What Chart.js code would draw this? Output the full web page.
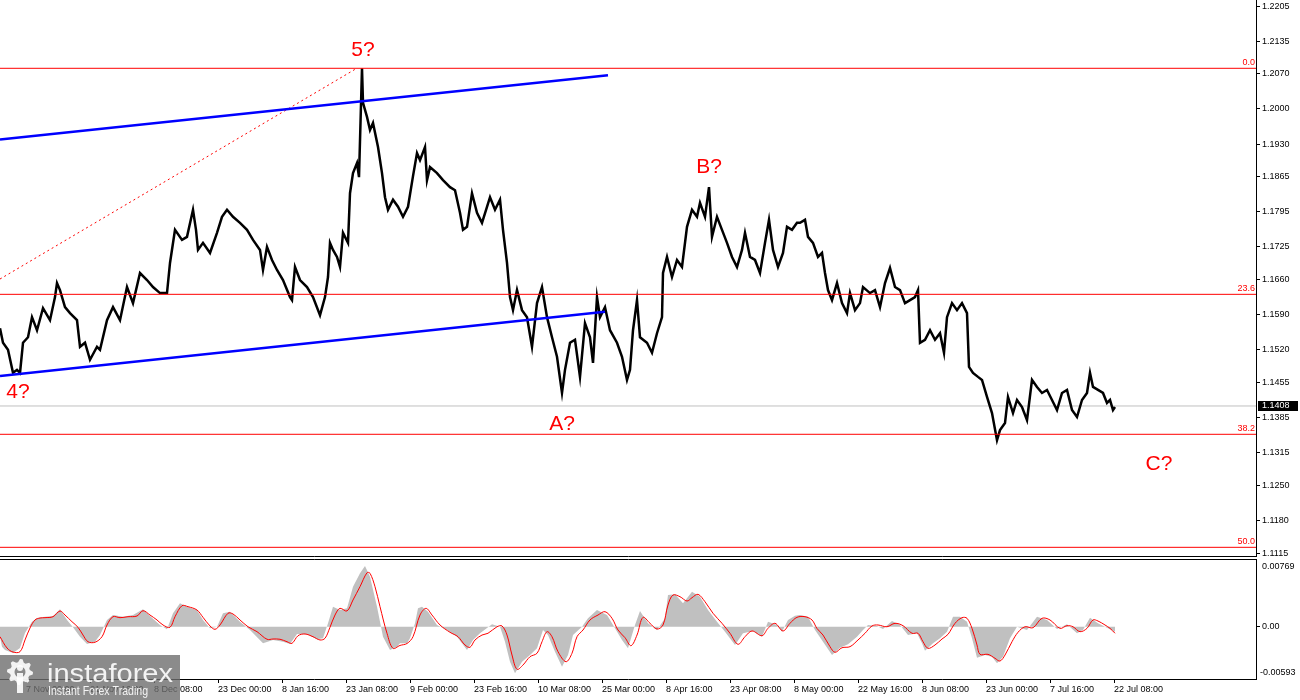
<!DOCTYPE html>
<html>
<head>
<meta charset="utf-8">
<script src="https://cdn.jsdelivr.net/npm/chart.js@4.4.1/dist/chart.umd.min.js"></script>
<style>
  html, body { margin: 0; padding: 0; background: #fff; }
  #wrap { position: relative; width: 1300px; height: 700px; overflow: hidden; }
  #priceChart { position: absolute; left: 0; top: 0; width: 1300px; height: 557px; }
  #macdChart { position: absolute; left: 0; top: 557px; width: 1300px; height: 143px; }
</style>
</head>
<body>
<div id="wrap">
  <canvas id="priceChart" width="1300" height="557"></canvas>
  <canvas id="macdChart" width="1300" height="143"></canvas>
</div>
<script>
Chart.defaults.font.family = '"Liberation Sans", Arial, sans-serif';
Chart.defaults.font.size = 9;
Chart.defaults.color = '#000';

// x is the H4 bar number, one bar per pixel
const timeTickBars = [26, 90, 154, 218, 282, 346, 410, 474, 538, 602, 666, 730, 794, 858, 922, 986, 1050, 1114];
const timeTickLabels = ['7 Nov 00:00', '21 Nov 16:00', '8 Dec 08:00', '23 Dec 00:00', '8 Jan 16:00', '23 Jan 08:00',
  '9 Feb 00:00', '23 Feb 16:00', '10 Mar 08:00', '25 Mar 00:00', '8 Apr 16:00', '23 Apr 08:00',
  '8 May 00:00', '22 May 16:00', '8 Jun 08:00', '23 Jun 00:00', '7 Jul 16:00', '22 Jul 08:00'];

const priceTicks = [1.2205, 1.2135, 1.2070, 1.2000, 1.1930, 1.1865, 1.1795, 1.1725, 1.1660,
  1.1590, 1.1520, 1.1455, 1.1385, 1.1315, 1.1250, 1.1180, 1.1115];

const priceBars = [
  0, 3, 8, 13, 17, 20, 23, 28, 32, 37,
  43, 50, 55, 57, 60, 65, 70, 77, 80, 85,
  90, 97, 100, 107, 113, 120, 127, 133, 140, 147,
  153, 160, 167, 170, 175, 182, 187, 193, 196, 198,
  203, 210, 217, 222, 227, 233, 240, 247, 253, 260,
  263, 267, 272, 277, 283, 290, 292, 295, 300, 307,
  313, 320, 325, 328, 330, 333, 337, 340, 343, 348,
  350, 353, 357, 359, 362, 363, 367, 370, 373, 378,
  382, 385, 388, 393, 398, 403, 408, 413, 417, 420,
  425, 427, 430, 437, 443, 450, 455, 460, 463, 467,
  472, 477, 482, 487, 490, 495, 500, 503, 507, 510,
  513, 517, 522, 527, 532, 537, 542, 547, 552, 557,
  562, 565, 570, 575, 580, 585, 590, 593, 597, 600,
  605, 610, 617, 622, 627, 630, 633, 637, 640, 647,
  652, 657, 662, 663, 667, 672, 677, 682, 687, 692,
  697, 700, 705, 709, 712, 717, 722, 727, 732, 737,
  742, 745, 750, 755, 760, 765, 769, 773, 778, 783,
  787, 792, 797, 800, 805, 808, 813, 818, 822, 825,
  828, 832, 837, 842, 847, 850, 855, 860, 863, 870,
  875, 880, 885, 890, 895, 900, 905, 910, 915, 918,
  920, 925, 930, 935, 940, 944, 947, 952, 957, 962,
  967, 969, 973, 978, 982, 987, 992, 997, 1000, 1005,
  1008, 1013, 1017, 1022, 1027, 1032, 1037, 1042, 1047, 1052,
  1057, 1062, 1067, 1072, 1077, 1082, 1087, 1090, 1093, 1098,
  1103, 1107, 1110, 1113, 1115
];
const priceValues = [
  1.1563, 1.1534, 1.1520, 1.1474, 1.1480, 1.1474, 1.1534, 1.1545, 1.1585, 1.1559,
  1.1603, 1.1579, 1.1625, 1.1653, 1.1639, 1.1605, 1.1593, 1.1579, 1.1526, 1.1534,
  1.1500, 1.1526, 1.1520, 1.1579, 1.1605, 1.1579, 1.1645, 1.1613, 1.1673, 1.1659,
  1.1645, 1.1633, 1.1633, 1.1693, 1.1759, 1.1739, 1.1745, 1.1799, 1.1759, 1.1719,
  1.1733, 1.1713, 1.1753, 1.1785, 1.1799, 1.1785, 1.1773, 1.1759, 1.1739, 1.1719,
  1.1679, 1.1725, 1.1699, 1.1679, 1.1659, 1.1625, 1.1619, 1.1685, 1.1659, 1.1645,
  1.1625, 1.1589, 1.1625, 1.1665, 1.1733, 1.1719, 1.1705, 1.1685, 1.1753, 1.1733,
  1.1832, 1.1872, 1.1892, 1.1864, 1.2081, 1.2012, 1.1984, 1.1958, 1.1972, 1.1924,
  1.1872, 1.1824, 1.1799, 1.1819, 1.1805, 1.1785, 1.1805, 1.1866, 1.1912, 1.1898,
  1.1924, 1.1858, 1.1884, 1.1872, 1.1858, 1.1844, 1.1838, 1.1793, 1.1759, 1.1765,
  1.1832, 1.1793, 1.1773, 1.1805, 1.1824, 1.1799, 1.1819, 1.1759, 1.1693, 1.1625,
  1.1599, 1.1639, 1.1599, 1.1585, 1.1526, 1.1613, 1.1645, 1.1585, 1.1545, 1.1506,
  1.1434, 1.1480, 1.1534, 1.1540, 1.1466, 1.1573, 1.1545, 1.1494, 1.1625, 1.1585,
  1.1605, 1.1559, 1.1534, 1.1506, 1.1460, 1.1480, 1.1559, 1.1619, 1.1545, 1.1534,
  1.1514, 1.1553, 1.1585, 1.1673, 1.1705, 1.1665, 1.1699, 1.1685, 1.1765, 1.1799,
  1.1785, 1.1813, 1.1785, 1.1844, 1.1745, 1.1785, 1.1759, 1.1733, 1.1705, 1.1685,
  1.1719, 1.1753, 1.1705, 1.1699, 1.1673, 1.1733, 1.1779, 1.1719, 1.1685, 1.1713,
  1.1765, 1.1759, 1.1773, 1.1773, 1.1779, 1.1745, 1.1733, 1.1705, 1.1713, 1.1673,
  1.1639, 1.1619, 1.1653, 1.1613, 1.1593, 1.1633, 1.1599, 1.1613, 1.1645, 1.1633,
  1.1639, 1.1605, 1.1653, 1.1683, 1.1645, 1.1639, 1.1613, 1.1619, 1.1625, 1.1639,
  1.1534, 1.1540, 1.1559, 1.1540, 1.1553, 1.1514, 1.1585, 1.1613, 1.1599, 1.1613,
  1.1593, 1.1486, 1.1474, 1.1466, 1.1460, 1.1426, 1.1394, 1.1340, 1.1360, 1.1374,
  1.1426, 1.1394, 1.1420, 1.1406, 1.1380, 1.1460, 1.1446, 1.1434, 1.1440, 1.1420,
  1.1400, 1.1434, 1.1440, 1.1400, 1.1386, 1.1420, 1.1434, 1.1474, 1.1446, 1.1440,
  1.1434, 1.1414, 1.1420, 1.1400, 1.1406
];
const lastPrice = 1.1408;

const fibLevels = [1.20809, 1.16305, 1.13516, 1.11264];
const fibLabels = ['0.0', '23.6', '38.2', '50.0'];

const channelTopBars = [0, 608];
const channelTopValues = [1.1939, 1.2067];
const channelLowBars = [0, 605];
const channelLowValues = [1.1468, 1.1596];
const fanBars = [0, 356];
const fanValues = [1.1661, 1.2080];

const waveTexts = ['5?', '4?', 'A?', 'B?', 'C?'];
const waveBars = [363, 18, 562, 709, 1159];
const wavePrices = [1.2117, 1.1436, 1.1372, 1.1884, 1.1292];

// MACD (12,26,9): main as histogram, signal as line
const histBars = [
  0, 2, 5, 13, 20, 25, 32, 37, 43, 53,
  60, 67, 73, 80, 87, 95, 100, 107, 113, 123,
  133, 143, 150, 160, 167, 173, 180, 187, 197, 203,
  210, 217, 223, 230, 240, 250, 263, 273, 283, 290,
  297, 307, 317, 323, 328, 333, 340, 347, 353, 360,
  365, 370, 377, 383, 390, 397, 400, 407, 410, 415,
  418, 422, 428, 437, 447, 457, 467, 473, 480, 492,
  500, 505, 510, 515, 522, 530, 537, 543, 548, 555,
  562, 568, 573, 582, 588, 597, 607, 615, 622, 628,
  635, 640, 648, 657, 665, 668, 675, 683, 692, 700,
  708, 717, 725, 735, 743, 753, 762, 768, 777, 782,
  788, 795, 800, 808, 815, 823, 832, 840, 848, 857,
  863, 868, 877, 883, 892, 900, 908, 917, 922, 925,
  933, 940, 947, 953, 960, 967, 972, 977, 985, 992,
  997, 1003, 1010, 1017, 1027, 1037, 1047, 1057, 1067, 1077,
  1083, 1090, 1098, 1105, 1115
];
const histValues = [
  -0.00113, -0.00226, -0.00264, -0.00298, -0.00241, -0.00071, 0.00057, 0.00099, 0.00111, 0.00122,
  0.00198, 0.00077, -0.00006, -0.00113, -0.00196, -0.00170, -0.00094, 0.00077, 0.00133, 0.00114,
  0.00133, 0.00198, 0.00122, 0.00020, -0.00029, 0.00153, 0.00266, 0.00228, 0.00190, 0.00077,
  -0.00018, 0.00000, 0.00153, 0.00171, 0.00057, -0.00037, -0.00188, -0.00150, -0.00170, -0.00196,
  -0.00082, -0.00086, -0.00142, -0.00131, 0.00039, 0.00228, 0.00190, 0.00209, 0.00455, 0.00607,
  0.00690, 0.00568, 0.00228, -0.00113, -0.00264, -0.00226, -0.00188, -0.00188, -0.00131, 0.00039,
  0.00209, 0.00228, 0.00171, 0.00020, -0.00037, -0.00113, -0.00264, -0.00150, -0.00074, 0.00028,
  0.00000, -0.00170, -0.00397, -0.00528, -0.00397, -0.00321, -0.00245, -0.00037, -0.00094, -0.00283,
  -0.00453, -0.00321, -0.00094, 0.00000, 0.00096, 0.00190, 0.00133, -0.00018, -0.00150, -0.00245,
  0.00020, 0.00179, 0.00039, -0.00037, 0.00096, 0.00360, 0.00368, 0.00266, 0.00398, 0.00341,
  0.00190, 0.00057, -0.00056, -0.00207, -0.00074, -0.00048, -0.00113, 0.00057, 0.00020, -0.00056,
  0.00077, 0.00125, 0.00133, 0.00114, -0.00037, -0.00170, -0.00321, -0.00238, -0.00199, -0.00113,
  -0.00037, 0.00020, 0.00009, -0.00026, 0.00065, 0.00020, -0.00094, -0.00074, -0.00188, -0.00272,
  -0.00188, -0.00131, -0.00056, 0.00114, 0.00114, 0.00057, -0.00131, -0.00351, -0.00321, -0.00340,
  -0.00415, -0.00340, -0.00131, 0.00000, -0.00037, 0.00114, 0.00077, -0.00026, 0.00028, -0.00074,
  -0.00037, 0.00103, 0.00039, 0.00000, -0.00056
];
const signalBars = [
  0, 7, 13, 20, 25, 30, 35, 40, 45, 53,
  60, 65, 72, 78, 83, 88, 95, 102, 107, 113,
  120, 128, 137, 143, 150, 157, 163, 170, 175, 182,
  188, 197, 203, 210, 215, 220, 228, 233, 240, 248,
  257, 267, 273, 280, 287, 292, 298, 305, 313, 320,
  325, 330, 335, 340, 347, 353, 360, 367, 370, 375,
  380, 387, 393, 400, 407, 413, 420, 426, 432, 440,
  450, 458, 465, 470, 475, 482, 488, 497, 502, 507,
  512, 517, 523, 530, 537, 542, 547, 552, 558, 566,
  572, 577, 583, 590, 598, 605, 612, 618, 625, 631,
  637, 643, 650, 657, 663, 668, 673, 680, 687, 692,
  698, 705, 713, 722, 730, 738, 745, 752, 762, 768,
  775, 783, 790, 797, 805, 812, 817, 823, 830, 835,
  842, 850, 858, 865, 872, 878, 887, 895, 903, 912,
  918, 923, 928, 935, 942, 948, 955, 962, 967, 972,
  977, 980, 988, 995, 1000, 1005, 1012, 1018, 1025, 1033,
  1042, 1050, 1060, 1067, 1073, 1080, 1087, 1093, 1098, 1105,
  1110, 1115
];
const signalValues = [
  -0.00113, -0.00241, -0.00287, -0.00283, -0.00150, -0.00014, 0.00077, 0.00099, 0.00103, 0.00114,
  0.00179, 0.00133, 0.00057, -0.00006, -0.00094, -0.00170, -0.00176, -0.00113, 0.00020, 0.00114,
  0.00103, 0.00114, 0.00122, 0.00182, 0.00133, 0.00077, 0.00020, -0.00006, 0.00114, 0.00239,
  0.00228, 0.00190, 0.00107, 0.00009, -0.00029, 0.00020, 0.00153, 0.00145, 0.00077, 0.00000,
  -0.00056, -0.00142, -0.00139, -0.00142, -0.00170, -0.00188, -0.00102, -0.00082, -0.00113, -0.00150,
  -0.00131, -0.00006, 0.00133, 0.00209, 0.00179, 0.00304, 0.00455, 0.00613, 0.00607, 0.00455,
  0.00228, -0.00074, -0.00245, -0.00212, -0.00190, -0.00113, 0.00133, 0.00209, 0.00133, 0.00020,
  -0.00063, -0.00113, -0.00207, -0.00233, -0.00150, -0.00094, -0.00074, 0.00000, 0.00009, -0.00094,
  -0.00321, -0.00483, -0.00434, -0.00340, -0.00301, -0.00170, -0.00056, -0.00113, -0.00283, -0.00397,
  -0.00301, -0.00113, -0.00037, 0.00077, 0.00133, 0.00171, 0.00096, -0.00037, -0.00124, -0.00215,
  -0.00094, 0.00107, 0.00039, -0.00026, 0.00020, 0.00247, 0.00360, 0.00341, 0.00292, 0.00330,
  0.00368, 0.00284, 0.00153, 0.00039, -0.00074, -0.00199, -0.00113, -0.00048, -0.00102, -0.00018,
  0.00039, -0.00048, 0.00039, 0.00107, 0.00114, 0.00077, -0.00020, -0.00094, -0.00226, -0.00290,
  -0.00238, -0.00226, -0.00150, -0.00074, 0.00009, 0.00020, 0.00000, 0.00039, 0.00012, -0.00074,
  -0.00074, -0.00170, -0.00245, -0.00207, -0.00139, -0.00086, 0.00039, 0.00103, 0.00096, -0.00018,
  -0.00207, -0.00313, -0.00313, -0.00358, -0.00389, -0.00321, -0.00170, -0.00063, 0.00000, -0.00011,
  0.00096, 0.00077, -0.00018, 0.00012, 0.00000, -0.00056, -0.00018, 0.00077, 0.00065, 0.00020,
  -0.00018, -0.00074
];
const macdTicks = [0];
const macdMax = 0.00769;
const macdMin = -0.00593;

function pts(bars, vals) {
  return bars.map((b, i) => ({ x: b, y: vals[i] }));
}

// fixed right axis width, no edge padding, so both panels line up
function fixAxis(width) {
  return function (scale) {
    scale.width = width;
    scale.paddingTop = 0;
    scale.paddingBottom = 0;
  };
}

const priceDecor = {
  id: 'priceDecor',
  afterDatasetsDraw(chart) {
    const { ctx, chartArea, scales: { x, y } } = chart;
    ctx.save();
    ctx.fillStyle = '#ff0000';
    ctx.font = '9px "Liberation Sans", Arial, sans-serif';
    ctx.textAlign = 'right';
    ctx.textBaseline = 'bottom';
    fibLevels.forEach((lvl, i) => {
      ctx.fillText(fibLabels[i], chartArea.right - 1, y.getPixelForValue(lvl) - 1);
    });
    ctx.font = '21px "Liberation Sans", Arial, sans-serif';
    ctx.textAlign = 'center';
    ctx.textBaseline = 'middle';
    waveTexts.forEach((t, i) => {
      ctx.fillText(t, x.getPixelForValue(waveBars[i]), y.getPixelForValue(wavePrices[i]));
    });
    // panel frame bottom
    ctx.strokeStyle = '#000';
    ctx.lineWidth = 1;
    ctx.beginPath();
    ctx.moveTo(0, chartArea.bottom - 0.5);
    ctx.lineTo(chartArea.right + 1, chartArea.bottom - 0.5);
    ctx.stroke();
    ctx.restore();
  },
  afterDraw(chart) {
    const { ctx, chartArea, scales: { y } } = chart;
    const py = Math.round(y.getPixelForValue(lastPrice));
    ctx.save();
    ctx.fillStyle = '#000';
    ctx.fillRect(chartArea.right + 2, py - 5, 40, 10);
    ctx.fillStyle = '#fff';
    ctx.font = '9px "Liberation Sans", Arial, sans-serif';
    ctx.textAlign = 'left';
    ctx.textBaseline = 'middle';
    ctx.fillText(lastPrice.toFixed(4), chartArea.right + 6, py);
    ctx.restore();
  }
};

new Chart(document.getElementById('priceChart'), {
  type: 'line',
  data: {
    datasets: [
      ...fibLevels.map(lvl => ({
        data: pts([0, 1256], [lvl, lvl]), borderColor: '#ff0000', borderWidth: 1, order: 1
      })),
      { data: pts([0, 1256], [lastPrice, lastPrice]), borderColor: '#c0c0c0', borderWidth: 1, order: 6 },
      { data: pts(channelTopBars, channelTopValues), borderColor: '#0000ff', borderWidth: 2.5, order: 1 },
      { data: pts(channelLowBars, channelLowValues), borderColor: '#0000ff', borderWidth: 2.5, order: 1 },
      { data: pts(fanBars, fanValues), borderColor: '#ff0000', borderWidth: 1, borderDash: [2, 3], order: 1 },
      { data: pts(priceBars, priceValues), borderColor: '#000', borderWidth: 2.5, borderJoinStyle: 'miter', order: 5 }
    ]
  },
  options: {
    responsive: false,
    animation: false,
    devicePixelRatio: 1,
    layout: { padding: 0 },
    elements: { point: { radius: 0 }, line: { tension: 0 } },
    plugins: { legend: { display: false }, tooltip: { enabled: false } },
    scales: {
      x: { type: 'linear', min: 0, max: 1256, display: false },
      y: {
        position: 'right',
        min: 1.11071,
        max: 1.2217,
        afterBuildTicks: scale => { scale.ticks = priceTicks.map(v => ({ value: v })); },
        afterFit: fixAxis(44),
        grid: { drawOnChartArea: false, drawTicks: true, tickLength: 4, color: '#000' },
        border: { display: true, color: '#000', width: 1 },
        ticks: { autoSkip: false, padding: 2, color: '#000', callback: v => v.toFixed(4) }
      }
    }
  },
  plugins: [priceDecor]
});

function drawGear(ctx, cx, cy, rOut, rIn, teeth) {
  ctx.beginPath();
  const n = teeth * 4;
  for (let i = 0; i <= n; i++) {
    const a = (i / n) * Math.PI * 2;
    const r = (i % 4 < 2) ? rOut : rIn;
    const px = cx + Math.cos(a) * r, py = cy + Math.sin(a) * r;
    if (i === 0) ctx.moveTo(px, py); else ctx.lineTo(px, py);
  }
  ctx.closePath();
  ctx.moveTo(cx + rIn * 0.55, cy);
  ctx.arc(cx, cy, rIn * 0.55, 0, Math.PI * 2, true);
  ctx.fill('evenodd');
}

const macdDecor = {
  id: 'macdDecor',
  afterDraw(chart) {
    const { ctx, chartArea, scales: { y } } = chart;
    ctx.save();
    // top frame line of the indicator window
    ctx.strokeStyle = '#000';
    ctx.lineWidth = 1;
    ctx.beginPath();
    ctx.moveTo(0, chartArea.top + 0.5);
    ctx.lineTo(chartArea.right + 1, chartArea.top + 0.5);
    ctx.stroke();
    // window range labels
    ctx.fillStyle = '#000';
    ctx.font = '9px "Liberation Sans", Arial, sans-serif';
    ctx.textAlign = 'left';
    ctx.textBaseline = 'middle';
    ctx.fillText(macdMax.toFixed(5), chartArea.right + 6, y.getPixelForValue(macdMax) + 8);
    ctx.fillText(macdMin.toFixed(5), chartArea.right + 4, y.getPixelForValue(macdMin) - 6);

    // watermark
    const top = chart.height - 45;
    ctx.fillStyle = 'rgba(110,110,110,0.8)';
    ctx.fillRect(0, top, 180, 45);
    ctx.fillStyle = 'rgba(255,255,255,0.9)';
    drawGear(ctx, 20, top + 17, 13, 10, 8);
    ctx.beginPath();
    ctx.arc(20, top + 13, 3, 0, Math.PI * 2);
    ctx.fill();
    ctx.fillRect(17, top + 18, 6, 20);
    ctx.font = '26px "Liberation Sans", Arial, sans-serif';
    ctx.textBaseline = 'alphabetic';
    let w = ctx.measureText('instaforex').width;
    ctx.save();
    ctx.translate(47, top + 27);
    ctx.scale(126 / w, 1);
    ctx.fillText('instaforex', 0, 0);
    ctx.restore();
    ctx.font = '12px "Liberation Sans", Arial, sans-serif';
    w = ctx.measureText('Instant Forex Trading').width;
    ctx.save();
    ctx.translate(48, top + 40);
    ctx.scale(100 / w, 1);
    ctx.fillText('Instant Forex Trading', 0, 0);
    ctx.restore();
    ctx.restore();
  }
};

new Chart(document.getElementById('macdChart'), {
  type: 'line',
  data: {
    datasets: [
      { data: pts(signalBars, signalValues), borderColor: '#ff0000', borderWidth: 1, tension: 0.35, order: 1 },
      { data: pts(histBars, histValues), borderColor: 'rgba(0,0,0,0)', borderWidth: 0,
        backgroundColor: '#c0c0c0', fill: 'origin', order: 2 }
    ]
  },
  options: {
    responsive: false,
    animation: false,
    devicePixelRatio: 1,
    layout: { padding: { top: 2, left: 0, right: 0, bottom: 0 } },
    elements: { point: { radius: 0 }, line: { tension: 0 } },
    plugins: { legend: { display: false }, tooltip: { enabled: false } },
    scales: {
      x: {
        type: 'linear', min: 0, max: 1256,
        afterBuildTicks: scale => { scale.ticks = timeTickBars.map(v => ({ value: v })); },
        afterFit: scale => { scale.height = 21; scale.paddingLeft = 0; scale.paddingRight = 0; },
        grid: { drawOnChartArea: false, drawTicks: true, tickLength: 4, color: '#000' },
        border: { display: true, color: '#000', width: 1 },
        ticks: {
          autoSkip: false, maxRotation: 0, align: 'start', padding: 1, color: '#000',
          callback: (v, i) => timeTickLabels[i]
        }
      },
      y: {
        position: 'right',
        min: macdMin,
        max: macdMax,
        afterBuildTicks: scale => { scale.ticks = macdTicks.map(v => ({ value: v })); },
        afterFit: fixAxis(44),
        grid: { drawOnChartArea: false, drawTicks: true, tickLength: 4, color: '#000' },
        border: { display: true, color: '#000', width: 1 },
        ticks: { autoSkip: false, padding: 2, color: '#000', callback: v => v.toFixed(2) }
      }
    }
  },
  plugins: [macdDecor]
});
</script>
</body>
</html>
